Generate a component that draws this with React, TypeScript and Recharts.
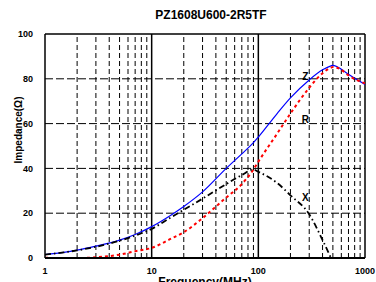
import { LineChart, Line, XAxis, YAxis, ReferenceLine, ReferenceDot } from 'recharts'

// impedance curves
const FREQ_MHZ = [1, 1.5, 2, 3, 5, 7, 10, 15, 20, 30, 50, 70, 90, 100, 150, 200, 300, 400, 480, 500, 600, 700, 1000]
const Z_OHM = [1.5, 2.5, 3.5, 5.3, 8, 10.5, 14, 19, 23, 29.5, 40, 46.5, 51.5, 54, 64.5, 71.5, 79.5, 84, 85.8, 86, 84.3, 82, 77.5]
const R_OHM = [0.1, 0, 0, 0.3, 1.5, 3, 4.5, 8.5, 11.5, 17.8, 27, 33, 39.5, 43, 55.5, 64.5, 76, 82.5, 85, 85.3, 84, 81.5, 78]
const X_OHM = [1.5, 2.5, 3.4, 5, 7.7, 10, 13, 18, 21.5, 26.5, 33, 37, 39.5, 38.5, 33.5, 28, 19.5, 8, 0, null, null, null, null]

const X_TICKS = [1, 10, 100, 1000]
const Y_TICKS = [0, 20, 40, 60, 80, 100]
const MINOR_FREQ = [2, 3, 4, 5, 6, 7, 8, 9, 20, 30, 40, 50, 60, 70, 80, 90, 200, 300, 400, 500, 600, 700, 800, 900]
const MINOR_Y = [5, 10, 15, 25, 30, 35, 45, 50, 55, 65, 70, 75, 85, 90, 95]

const data = FREQ_MHZ.map((f, i) => ({ f, z: Z_OHM[i], r: R_OHM[i], x: X_OHM[i] }))

const FONT = '"Liberation Sans", Arial, sans-serif'
const tickStyle = { fill: '#000', fontSize: 9, fontWeight: 'bold', fontFamily: FONT }
const curveLabel = { position: 'center' as const, fill: '#000', fontSize: 10, fontWeight: 'bold', fontFamily: FONT }

export default function App() {
  return (
    <div style={{ position: 'absolute', left: 0, top: 0, width: 376, height: 282, overflow: 'hidden', background: '#fff', fontFamily: FONT }}>
      <div style={{ position: 'absolute', left: 0, top: 8, width: 422, textAlign: 'center', fontSize: 12, fontWeight: 'bold' }}>
        PZ1608U600-2R5TF
      </div>
      <div
        style={{
          position: 'absolute', left: 18, top: 130, fontSize: 10, fontWeight: 'bold', whiteSpace: 'nowrap',
          transform: 'translate(-50%, -50%) rotate(-90deg)',
        }}
      >
        Impedance(Ω)
      </div>
      <LineChart width={376} height={282} data={data} margin={{ top: 34, right: 11, left: 0, bottom: 0 }}>
        {[20, 40, 60, 80].map((v) => (
          <ReferenceLine key={'h' + v} y={v} stroke="#000" strokeWidth={1} strokeDasharray="8 3" />
        ))}
        {MINOR_FREQ.map((v) => (
          <ReferenceLine key={'v' + v} x={v} stroke="#000" strokeWidth={1} strokeDasharray="5 3" />
        ))}
        <ReferenceLine x={10} stroke="#000" strokeWidth={1.5} />
        <ReferenceLine x={100} stroke="#000" strokeWidth={1.5} />
        <ReferenceLine x={1000} stroke="#000" strokeWidth={1.5} />
        <ReferenceLine y={100} stroke="#000" strokeWidth={1.5} />
        <XAxis
          dataKey="f"
          type="number"
          scale="log"
          domain={[1, 1000]}
          allowDataOverflow
          ticks={X_TICKS}
          tick={tickStyle}
          tickLine={false}
          tickMargin={4}
          height={24}
          axisLine={{ stroke: '#000', strokeWidth: 2 }}
          label={{ value: 'Frequency(MHz)', position: 'insideBottom', offset: -4, fill: '#000', fontSize: 12, fontWeight: 'bold', fontFamily: FONT }}
        />
        <XAxis
          xAxisId="minor"
          type="number"
          scale="log"
          domain={[1, 1000]}
          allowDataOverflow
          ticks={MINOR_FREQ}
          tick={false}
          tickSize={3}
          mirror
          axisLine={false}
          tickLine={{ stroke: '#000' }}
        />
        <YAxis
          type="number"
          domain={[0, 100]}
          ticks={Y_TICKS}
          tick={tickStyle}
          tickLine={false}
          tickMargin={6}
          width={45}
          axisLine={{ stroke: '#000', strokeWidth: 1.5 }}
        />
        <YAxis
          yAxisId="minor"
          type="number"
          domain={[0, 100]}
          ticks={MINOR_Y}
          tick={false}
          tickSize={3}
          mirror
          axisLine={false}
          tickLine={{ stroke: '#000' }}
        />
        <Line dataKey="z" type="monotone" stroke="#0000ff" strokeWidth={1.2} dot={false} isAnimationActive={false} />
        <Line dataKey="r" type="monotone" stroke="#ff0000" strokeWidth={2} strokeDasharray="3 3" dot={false} isAnimationActive={false} />
        <Line dataKey="x" type="monotone" stroke="#000" strokeWidth={1.8} strokeDasharray="6 3 1.5 3" dot={false} isAnimationActive={false} />
        <ReferenceDot x={276} y={81} r={0} stroke="none" fill="none" label={{ value: 'Z', ...curveLabel }} />
        <ReferenceDot x={276} y={62} r={0} stroke="none" fill="none" label={{ value: 'R', ...curveLabel }} />
        <ReferenceDot x={276} y={27} r={0} stroke="none" fill="none" label={{ value: 'X', ...curveLabel }} />
      </LineChart>
    </div>
  )
}
